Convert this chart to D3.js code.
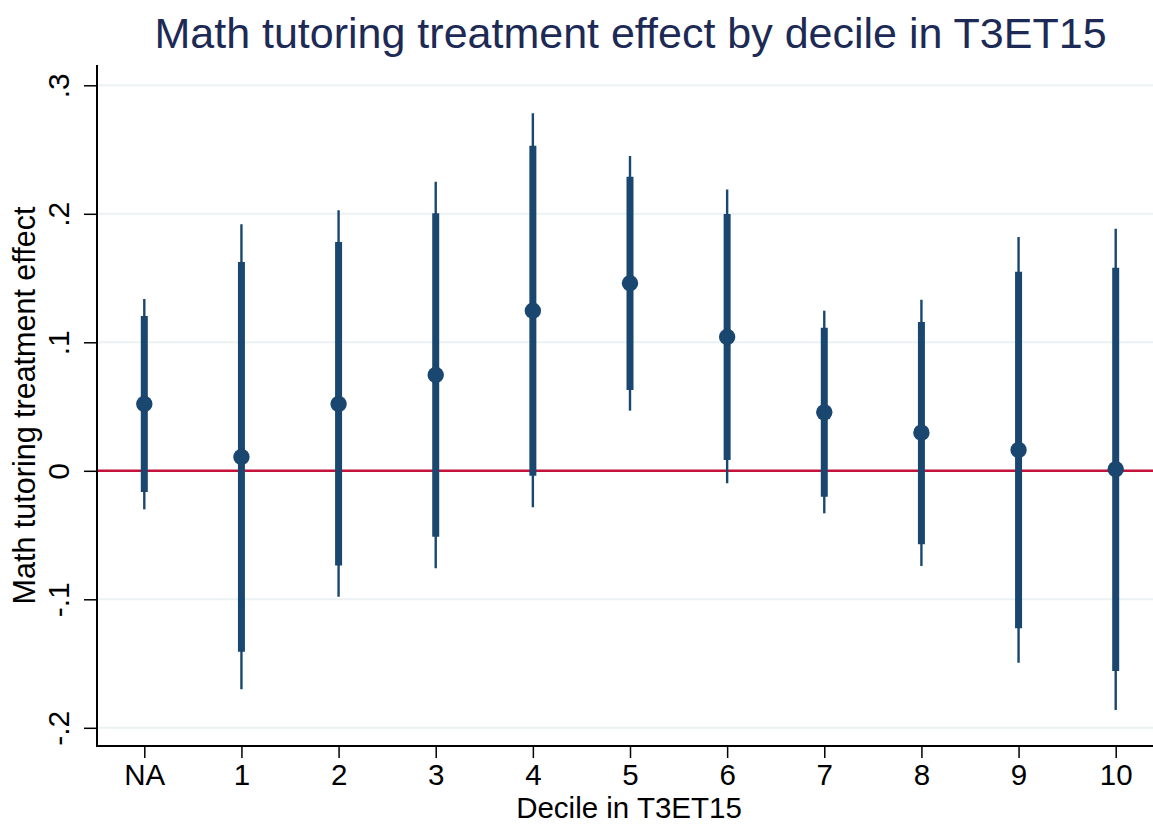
<!DOCTYPE html>
<html>
<head>
<meta charset="utf-8">
<script src="https://cdn.jsdelivr.net/npm/d3@7"></script>
<style>
  html, body { margin: 0; padding: 0; background: #ffffff; }
  svg { display: block; font-family: "Liberation Sans", Arial, sans-serif; }
</style>
</head>
<body>
<svg id="chart" width="1153" height="824"></svg>
<script>
// Decile categories and estimated treatment effects with 90% and 95% intervals
const deciles = ["NA", "1", "2", "3", "4", "5", "6", "7", "8", "9", "10"];
const estimate = [0.052, 0.0107, 0.052, 0.0746, 0.1246, 0.1459, 0.1041, 0.0455, 0.0297, 0.0162, 0.0012];
const ci90Low  = [-0.0165, -0.1408, -0.0736, -0.0513, -0.0038, 0.0629, 0.0084, -0.0201, -0.0572, -0.1226, -0.1558];
const ci90High = [0.1205, 0.1625, 0.178, 0.2004, 0.253, 0.2289, 0.1998, 0.1114, 0.1158, 0.155, 0.158];
const ci95Low  = [-0.030, -0.170, -0.098, -0.0759, -0.0284, 0.0468, -0.0097, -0.0331, -0.0741, -0.1493, -0.1862];
const ci95High = [0.1337, 0.1918, 0.2027, 0.225, 0.2782, 0.245, 0.219, 0.1246, 0.1332, 0.182, 0.1884];
const yTicks = [-0.2, -0.1, 0, 0.1, 0.2, 0.3];
const yTickLabels = ["-.2", "-.1", "0", ".1", ".2", ".3"];

const rows = deciles.map((d, i) => ({
  d, b: estimate[i], lo90: ci90Low[i], hi90: ci90High[i], lo95: ci95Low[i], hi95: ci95High[i]
}));

const W = 1153, H = 824;
const plot = { left: 97, right: 1153, top: 65, bottom: 746 };
const navy = "#1a476f";

const svg = d3.select("#chart");

const x = d3.scalePoint().domain(deciles).range([144.3, 1115.7]).padding(0);
const y = d3.scaleLinear().domain([-0.2, 0.3]).range([727.8, 85.3]);

// horizontal gridlines
svg.append("g")
  .selectAll("line")
  .data(yTicks)
  .join("line")
  .attr("x1", plot.left).attr("x2", plot.right)
  .attr("y1", d => y(d)).attr("y2", d => y(d))
  .attr("stroke", "#eaf2f3").attr("stroke-width", 2);

// reference line at zero
svg.append("line")
  .attr("x1", plot.left).attr("x2", plot.right)
  .attr("y1", y(0)).attr("y2", y(0))
  .attr("stroke", "#c4123a").attr("stroke-width", 2.5);

// y axis
const yAxis = d3.axisLeft(y)
  .tickValues(yTicks)
  .tickFormat((d, i) => yTickLabels[i])
  .tickSize(13)
  .tickPadding(0);
const gy = svg.append("g").attr("transform", `translate(${plot.left},0)`).call(yAxis);
gy.select(".domain").remove();
gy.selectAll(".tick line").attr("stroke", "#000").attr("stroke-width", 1.5);
gy.selectAll(".tick text")
  .attr("x", null).attr("dy", null)
  .attr("transform", "translate(-28,0) rotate(-90)")
  .attr("text-anchor", "middle")
  .attr("fill", "#000")
  .style("font-size", "30px");
svg.append("line")
  .attr("x1", plot.left).attr("x2", plot.left)
  .attr("y1", plot.top).attr("y2", plot.bottom)
  .attr("stroke", "#000").attr("stroke-width", 2);

// x axis
const xAxis = d3.axisBottom(x).tickSize(12).tickPadding(8);
const gx = svg.append("g").attr("transform", `translate(0,${plot.bottom})`).call(xAxis);
gx.select(".domain").remove();
gx.selectAll(".tick line").attr("stroke", "#000").attr("stroke-width", 1.5);
gx.selectAll(".tick text")
  .attr("dy", null).attr("y", 39)
  .attr("fill", "#000")
  .style("font-size", "29.5px");
svg.append("line")
  .attr("x1", plot.left - 1).attr("x2", plot.right)
  .attr("y1", plot.bottom).attr("y2", plot.bottom)
  .attr("stroke", "#000").attr("stroke-width", 2);

// confidence intervals and point estimates
const marks = svg.append("g");
marks.selectAll("line.ci95")
  .data(rows).join("line").attr("class", "ci95")
  .attr("x1", d => x(d.d)).attr("x2", d => x(d.d))
  .attr("y1", d => y(d.lo95)).attr("y2", d => y(d.hi95))
  .attr("stroke", navy).attr("stroke-width", 2.4);
marks.selectAll("line.ci90")
  .data(rows).join("line").attr("class", "ci90")
  .attr("x1", d => x(d.d)).attr("x2", d => x(d.d))
  .attr("y1", d => y(d.lo90)).attr("y2", d => y(d.hi90))
  .attr("stroke", navy).attr("stroke-width", 7);
marks.selectAll("circle")
  .data(rows).join("circle")
  .attr("cx", d => x(d.d)).attr("cy", d => y(d.b))
  .attr("r", 8.2)
  .attr("fill", navy);

// titles
svg.append("text")
  .attr("x", 630.5).attr("y", 48)
  .attr("text-anchor", "middle")
  .attr("fill", "#1c2a55")
  .style("font-size", "43px")
  .text("Math tutoring treatment effect by decile in T3ET15");

svg.append("text")
  .attr("transform", `translate(35,${(plot.top + plot.bottom) / 2}) rotate(-90)`)
  .attr("text-anchor", "middle")
  .attr("fill", "#000")
  .style("font-size", "30.5px")
  .text("Math tutoring treatment effect");

svg.append("text")
  .attr("x", 629).attr("y", 818)
  .attr("text-anchor", "middle")
  .attr("fill", "#000")
  .style("font-size", "29.5px")
  .text("Decile in T3ET15");
</script>
</body>
</html>
